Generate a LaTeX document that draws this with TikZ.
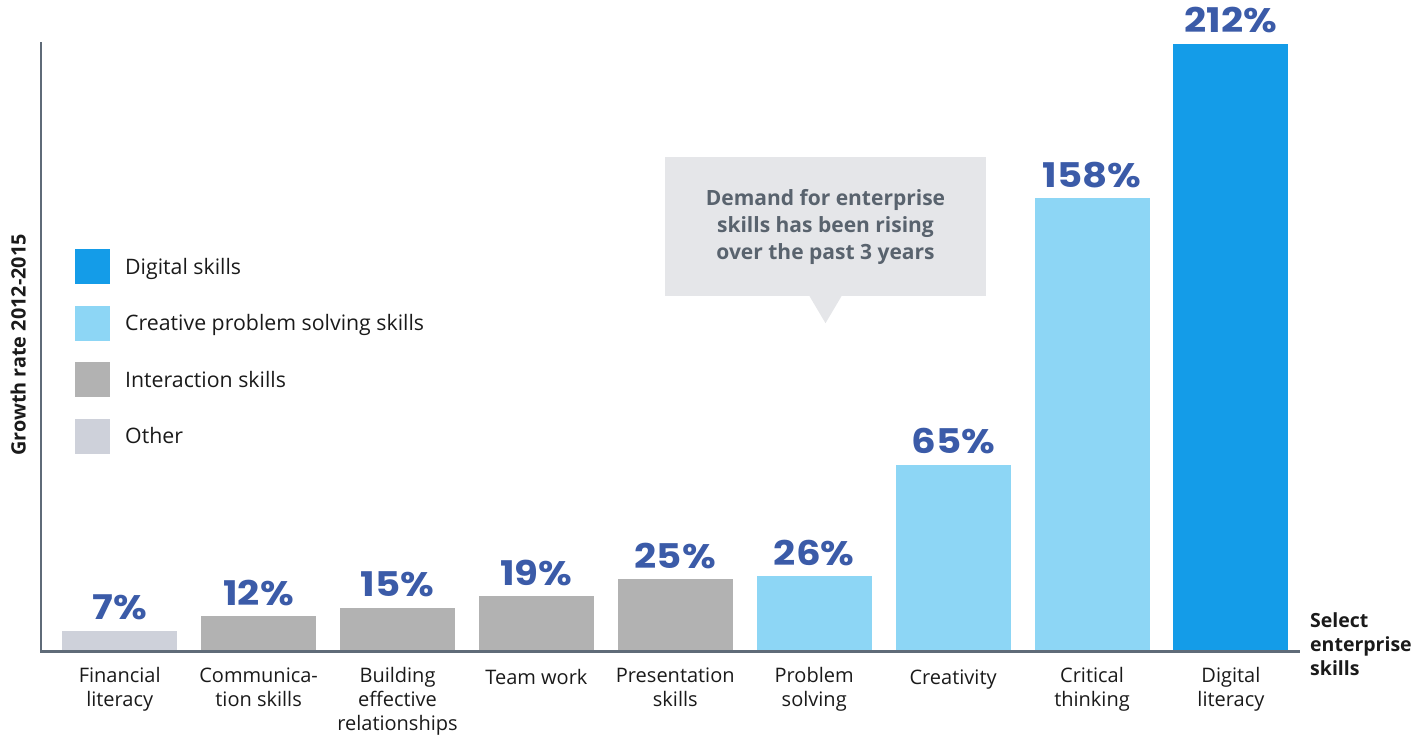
\documentclass[tikz,border=0pt]{standalone}
\usepackage{fontspec}
\setmainfont{Open Sans}
\newfontfamily\pctfont{Poppins}
\definecolor{cDigital}{HTML}{149CE8}
\definecolor{cCreative}{HTML}{8DD6F5}
\definecolor{cInter}{HTML}{B2B2B2}
\definecolor{cOther}{HTML}{CED1DA}
\definecolor{cPct}{HTML}{3B5BA8}
\definecolor{cAxis}{HTML}{5F6B78}
\definecolor{cNote}{HTML}{E5E6E9}
\definecolor{cNoteText}{HTML}{59636E}
\definecolor{cText}{HTML}{1A1A1A}
\tikzset{
  barbox/.style={draw=none, inner sep=0pt, minimum width=115pt, anchor=south west},
  pctlabel/.style={inner sep=0pt, anchor=base, text=cPct, font=\pctfont\bfseries\fontsize{34}{38}\selectfont},
  catlabel/.style={inner sep=0pt, anchor=north, align=center, text=cText, font=\fontsize{20}{24}\selectfont, execute at begin node=\strut},
  legsq/.style={draw=none, inner sep=0pt, minimum size=35pt},
  legtext/.style={inner sep=0pt, anchor=base west, text=cText, font=\fontsize{21.3}{24}\selectfont},
  axisline/.style={draw=cAxis, line width=2.5pt},
  notebox/.style={fill=cNote, inner sep=0pt, minimum width=321pt, minimum height=139pt, align=center, text=cNoteText, font=\bfseries\fontsize{21}{27}\selectfont},
  boldlabel/.style={inner sep=0pt, text=cText, font=\bfseries\fontsize{19.5}{24}\selectfont}
}
\begin{document}
\begin{tikzpicture}[x=1pt,y=-1pt]
\useasboundingbox (0,0) rectangle (1426,737);

% bars
\foreach \i/\v/\col/\lab [count=\k] in {
  0/7/cOther/{Financial\\literacy},
  1/12/cInter/{Communica-\\tion skills},
  2/15/cInter/{Building\\effective\\relationships},
  3/19/cInter/{Team work},
  4/25/cInter/{Presentation\\skills},
  5/26/cCreative/{Problem\\solving},
  6/65/cCreative/{Creativity},
  7/158/cCreative/{Critical\\thinking},
  8/212/cDigital/{Digital\\literacy}}
{
  \pgfmathsetmacro\h{\v*2.863}
  \pgfmathsetmacro\xl{62+\i*138.9}
  \node[barbox, fill=\col, minimum height=\h pt] (bar\k) at (\xl,651) {};
  \node[pctlabel] (pct\k) at ([yshift=11pt]bar\k.north) {\scalebox{1.14}[1]{\v\%}};
  \node[catlabel] (cat\k) at ([yshift=-16.2pt]bar\k.south) {\lab};
}

% axes
\coordinate (origin) at (41,651.5);
\coordinate (ytop) at (41,42);
\coordinate (xend) at (1300,651.5);
\draw[axisline] (ytop) -- (origin) -- (xend);

% axis titles
\node[boldlabel, rotate=90, anchor=base, font=\bfseries\fontsize{19.8}{22}\selectfont] (ytitle) at (25.5,345) {Growth rate 2012-2015};
\node[boldlabel, anchor=north west, align=left, execute at begin node=\strut] (xtitle) at (1310,612.2) {Select\\enterprise\\skills};

% legend
\foreach \col/\txt [count=\k] in {cDigital/Digital skills, cCreative/Creative problem solving skills, cInter/Interaction skills, cOther/Other}
{
  \pgfmathsetmacro\yc{266.5+(\k-1)*56.5}
  \node[legsq, fill=\col] (leg\k) at (92.5,\yc) {};
  \node[legtext] (legt\k) at (125,\yc+7.5) {\txt};
}

% callout
\node[notebox] (note) at (825.5,226.5) {Demand for enterprise\\skills has been rising\\over the past 3 years};
\fill[cNote] ([xshift=-16pt]note.south) -- ([yshift=-27pt]note.south) -- ([xshift=16pt]note.south) -- cycle;
\end{tikzpicture}
\end{document}
